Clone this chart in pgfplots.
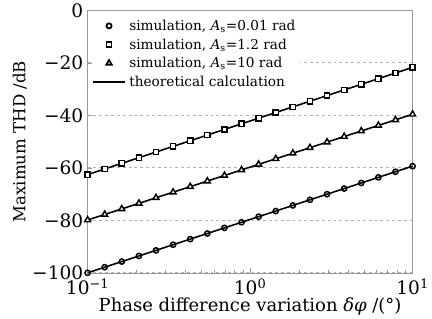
\documentclass[border=0pt]{standalone}
\usepackage{fontspec}
\setmainfont{DejaVu Serif}
\usepackage{pgfplots}
\pgfplotsset{compat=1.18}
\begin{document}
\begin{tikzpicture}
\begin{axis}[
  scale only axis,
  width=333pt, height=269pt,
  xmode=log,
  xmin=0.1, xmax=10,
  ymin=-100, ymax=0,
  ytick={-100,-80,-60,-40,-20,0},
  yticklabels={−100,−80,−60,−40,−20,0},
  xtick={0.1,1,10},
  xticklabels={10\textsuperscript{−1},10\textsuperscript{0},10\textsuperscript{1}},
  tick pos=left,
  tick align=inside,
  axis line style={gray!80},
  major tick style={gray!80},
  minor tick style={gray!80},
  major tick length=5pt,
  minor tick length=3pt,
  ymajorgrids,
  major grid style={dashed, gray!60, line width=0.8pt},
  tick label style={font=\fontsize{19}{22}\selectfont},
  yticklabel style={xshift=-1pt},
  xticklabel style={yshift=-3pt},
  xlabel={Phase difference variation \textit{δφ} /(°)},
  ylabel={Maximum THD /dB},
  xlabel style={font=\fontsize{18.4}{22}\selectfont, yshift=4pt},
  ylabel style={font=\fontsize{17}{20}\selectfont, inner ysep=13pt, yshift=-11pt},
  legend cell align=left,
  legend style={at={(0.012,0.975)}, anchor=north west, draw=none, fill=white,
    font=\fontsize{14}{16}\selectfont, row sep=3pt, inner sep=1pt,
    nodes={inner xsep=4pt}},
]
% theoretical lines
\addplot[black, line width=1.6pt, forget plot] coordinates {(0.1,-100) (10,-59.37)};
\addplot[black, line width=1.6pt, forget plot] coordinates {(0.1,-62.6) (10,-21.75)};
\addplot[black, line width=1.6pt, forget plot] coordinates {(0.1,-79.9) (10,-39.62)};
% simulations
\addplot[only marks, mark=o, mark size=2.7pt, mark options={black, line width=1.5pt, fill=white},
  legend image code/.code={\draw[mark=o, mark size=2.6pt, mark options={black, line width=1.8pt, fill=white}] plot coordinates {(16pt,0pt)};}] coordinates {
(0.1,-100) (0.12743,-97.86) (0.16238,-95.72) (0.20691,-93.58) (0.26367,-91.45)
(0.33598,-89.31) (0.42813,-87.17) (0.54556,-85.03) (0.69519,-82.89) (0.88587,-80.75)
(1.12884,-78.62) (1.43845,-76.48) (1.83298,-74.34) (2.33572,-72.20) (2.97635,-70.06)
(3.79269,-67.92) (4.83293,-65.78) (6.15848,-63.65) (7.84760,-61.51) (10,-59.37)};
\addlegendentry{simulation, \textit{A}\textsubscript{s}=0.01 rad}
\addplot[only marks, mark=square*, mark size=2.7pt, mark options={black, line width=1.5pt, fill=white},
  legend image code/.code={\draw[mark=square*, mark size=2.6pt, mark options={black, line width=1.8pt, fill=white}] plot coordinates {(16pt,0pt)};}] coordinates {
(0.1,-62.6) (0.12743,-60.45) (0.16238,-58.3) (0.20691,-56.15) (0.26367,-54.0)
(0.33598,-51.85) (0.42813,-49.7) (0.54556,-47.55) (0.69519,-45.4) (0.88587,-43.25)
(1.12884,-41.1) (1.43845,-38.95) (1.83298,-36.8) (2.33572,-34.65) (2.97635,-32.5)
(3.79269,-30.35) (4.83293,-28.2) (6.15848,-26.05) (7.84760,-23.9) (10,-21.75)};
\addlegendentry{simulation, \textit{A}\textsubscript{s}=1.2 rad}
\addplot[only marks, mark=triangle*, mark size=3.5pt, mark options={black, line width=1.5pt, fill=white},
  legend image code/.code={\draw[mark=triangle*, mark size=3.3pt, mark options={black, line width=1.8pt, fill=white}] plot coordinates {(16pt,0pt)};}] coordinates {
(0.1,-79.9) (0.12743,-77.78) (0.16238,-75.66) (0.20691,-73.54) (0.26367,-71.42)
(0.33598,-69.3) (0.42813,-67.18) (0.54556,-65.06) (0.69519,-62.94) (0.88587,-60.82)
(1.12884,-58.7) (1.43845,-56.58) (1.83298,-54.46) (2.33572,-52.34) (2.97635,-50.22)
(3.79269,-48.1) (4.83293,-45.98) (6.15848,-43.86) (7.84760,-41.74) (10,-39.62)};
\addlegendentry{simulation, \textit{A}\textsubscript{s}=10 rad}
\addlegendimage{legend image code/.code={\draw[black, line width=1.6pt] (0pt,0pt) -- (32pt,0pt);}}
\addlegendentry{theoretical calculation}
\end{axis}
\end{tikzpicture}
\end{document}
